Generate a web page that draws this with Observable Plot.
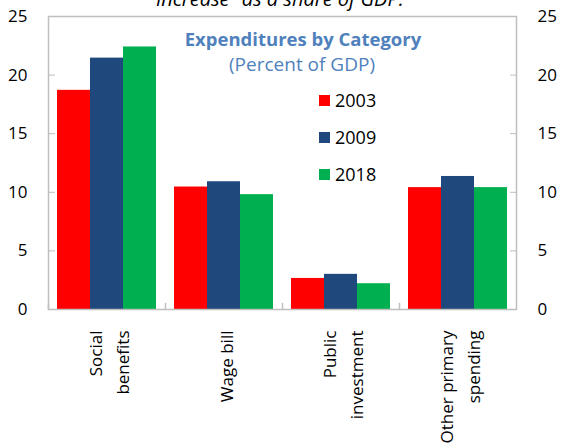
<!DOCTYPE html>
<html><head><meta charset="utf-8">
<script src="https://cdn.jsdelivr.net/npm/d3@7"></script>
<script src="https://cdn.jsdelivr.net/npm/@observablehq/plot@0.6"></script>
<style>
body{margin:0;background:#fff;font-family:"Open Sans",sans-serif}
#wrap{position:relative;width:564px;height:447px;overflow:hidden}
#wrap svg{position:absolute;left:0;top:0}
.ov{position:absolute;white-space:nowrap;line-height:20px}
.note{font-style:italic;font-size:20px;color:#000;transform:translateX(-50%)}
.title{font-weight:bold;font-size:18.5px;color:#4f81bd;transform:translateX(-50%)}
.sub{font-size:19px;color:#4f81bd;transform:translateX(-50%)}
.sw{position:absolute;width:11px;height:11px}
.lt{position:absolute;font-size:18px;line-height:20px;color:#000}
</style></head><body><div id="wrap"></div>
<script>
const categories = ["Social\nbenefits", "Wage bill", "Public\ninvestment", "Other primary\nspending"];
const years = ["2003", "2009", "2018"];
const v2003 = [18.7, 10.45, 2.65, 10.4];
const v2009 = [21.45, 10.9, 3.0, 11.35];
const v2018 = [22.4, 9.8, 2.2, 10.4];
const colors = ["#ff0000", "#1f497d", "#00b050"];
const yTicks = [0, 5, 10, 15, 20, 25];
const titleText = "Expenditures by Category";
const subtitleText = "(Percent of GDP)";
const topNote = "increase\u201d as a share of GDP.";

const series = [v2003, v2009, v2018];
const data = categories.flatMap((c, i) => series.map((s, j) => ({cat: c, year: years[j], value: s[i]})));
const gray = "#bfbfbf";
const lineShape = {draw(context, l) { context.moveTo(0, 0); context.lineTo(0, -l); }};

const chart = Plot.plot({
  width: 564, height: 447,
  marginTop: 16, marginBottom: 138, marginLeft: 46, marginRight: 47,
  style: {fontFamily: '"Open Sans", sans-serif', fontSize: "17px", color: "black", background: "transparent"},
  fx: {domain: categories, padding: 0, label: null},
  x: {domain: years, paddingInner: 0, paddingOuter: 0.247, axis: null},
  y: {domain: [0, 25], label: null},
  color: {domain: years, range: colors},
  marks: [
    Plot.barY(data, {fx: "cat", x: "year", y: "value", fill: "year"}),
    Plot.frame({facet: "super", stroke: gray, strokeWidth: 1.5}),
    Plot.vector([0], {x: null, y: null, frameAnchor: "bottom-left", length: 6, anchor: "start", shape: lineShape, stroke: gray, strokeWidth: 1.5}),
    Plot.axisY({anchor: "left", ticks: yTicks, tickSize: -7, tickPadding: 28, stroke: gray, fill: "black", label: null, fontSize: 17}),
    Plot.axisY({anchor: "right", ticks: yTicks, tickSize: -7, tickPadding: 28, stroke: gray, fill: "black", label: null, fontSize: 17}),
    Plot.axisFx({anchor: "bottom", tickSize: 0, tickPadding: 21, rotate: -90, textAnchor: "end", lineAnchor: "middle", lineHeight: 1.6, label: null, fontSize: 17, fill: "black"})
  ]
});
const wrap = document.getElementById("wrap");
wrap.appendChild(chart);

function addDiv(cls, text, left, top) {
  const d = document.createElement("div");
  d.className = "ov " + cls;
  d.textContent = text;
  d.style.left = left + "px";
  d.style.top = top + "px";
  wrap.appendChild(d);
  return d;
}
addDiv("note", topNote, 280, -11);
addDiv("title", titleText, 303, 29);
addDiv("sub", subtitleText, 302, 54);
years.forEach((y, i) => {
  const cy = 100 + i * 37;
  const s = document.createElement("div");
  s.className = "sw";
  s.style.left = "319px";
  s.style.top = (cy - 5.5) + "px";
  s.style.background = colors[i];
  wrap.appendChild(s);
  const t = document.createElement("div");
  t.className = "lt";
  t.textContent = y;
  t.style.left = "335px";
  t.style.top = (cy - 10) + "px";
  wrap.appendChild(t);
});
</script></body></html>
